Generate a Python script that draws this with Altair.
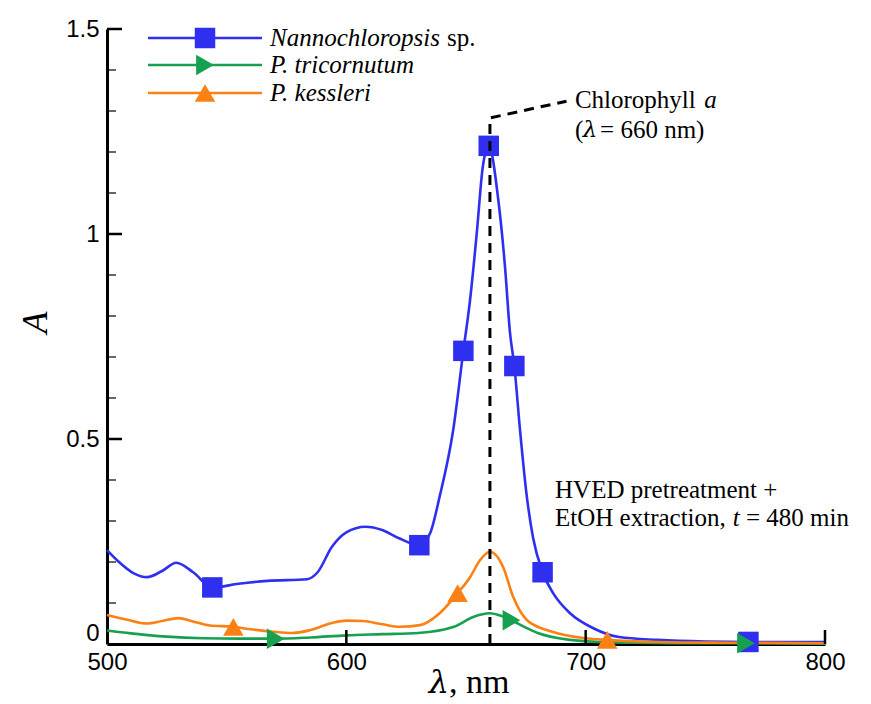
import altair as alt
import pandas as pd

# ---------------- data ----------------
series_names = ["Nannochloropsis sp.", "P. tricornutum", "P. kessleri"]
series_colors = ["#2f2ff0", "#17a050", "#fb8114"]
series_shapes = ["square", "triangle-right", "triangle-up"]

blue_x = [500, 505, 511, 516.7, 523, 529, 536, 544, 555, 567, 583.6, 588, 594, 600, 608, 615, 622, 630.5,
          635, 639, 644.6, 648.9, 651.7, 654.5, 657, 659.5, 663.5, 666.3, 668.4, 670.2, 672.6, 675.4,
          678, 682, 686.4, 693.5, 703, 714, 730, 750, 768, 800]
blue_y = [0.229, 0.2, 0.173, 0.163, 0.178, 0.198, 0.175, 0.138, 0.147, 0.154, 0.158, 0.175, 0.237, 0.272,
          0.286, 0.278, 0.258, 0.241, 0.27, 0.36, 0.52, 0.715, 0.839, 1.002, 1.163, 1.215, 1.083, 0.92,
          0.758, 0.678, 0.52, 0.36, 0.26, 0.175, 0.124, 0.075, 0.039, 0.017, 0.01, 0.006, 0.005, 0.005]

green_x = [500, 510, 525, 540, 555, 570.5, 585, 600, 615, 630, 645, 653, 660, 665, 669, 675, 680, 693.5,
           705, 720, 740, 767, 800]
green_y = [0.033, 0.026, 0.018, 0.014, 0.013, 0.013, 0.016, 0.021, 0.024, 0.027, 0.042, 0.066, 0.075,
           0.068, 0.058, 0.04, 0.027, 0.01, 0.005, 0.003, 0.002, 0.002, 0.001]

orange_x = [500, 508, 516.6, 523, 529.8, 536, 543, 552.8, 560, 569.4, 577.7, 585, 594, 600, 607, 615,
            622.4, 630.8, 639, 646.5, 651.7, 655.9, 660, 665.5, 669.7, 675.5, 686, 700, 709, 730, 760, 800]
orange_y = [0.071, 0.06, 0.05, 0.056, 0.063, 0.055, 0.045, 0.042, 0.036, 0.03, 0.027, 0.034, 0.051, 0.057,
            0.056, 0.048, 0.042, 0.046, 0.075, 0.124, 0.163, 0.205, 0.225, 0.188, 0.115, 0.058, 0.03,
            0.014, 0.01, 0.005, 0.003, 0.002]

blue_mx = [544, 630.5, 648.9, 659.5, 670.2, 682, 768]
blue_my = [0.138, 0.241, 0.715, 1.215, 0.678, 0.175, 0.005]
green_mx = [570.5, 669, 767]
green_my = [0.013, 0.058, 0.002]
orange_mx = [552.8, 646.5, 709]
orange_my = [0.042, 0.124, 0.01]

# chlorophyll a guide
guide_x = [660, 660, 692]
guide_y = [0, 1.283, 1.324]

y_major = [0, 0.5, 1, 1.5]
y_minor = [0.1, 0.2, 0.3, 0.4, 0.6, 0.7, 0.8, 0.9, 1.1, 1.2, 1.3, 1.4]
x_major = [500, 600, 700, 800]
x_inner_ticks = [600, 700, 800]

# ---------------- tables ----------------
curves = pd.concat([
    pd.DataFrame({"series": series_names[0], "x": blue_x, "y": blue_y}),
    pd.DataFrame({"series": series_names[1], "x": green_x, "y": green_y}),
    pd.DataFrame({"series": series_names[2], "x": orange_x, "y": orange_y}),
])
markers = pd.concat([
    pd.DataFrame({"series": series_names[0], "x": blue_mx, "y": blue_my}),
    pd.DataFrame({"series": series_names[1], "x": green_mx, "y": green_my}),
    pd.DataFrame({"series": series_names[2], "x": orange_mx, "y": orange_my}),
])
guide = pd.DataFrame({"x": guide_x, "y": guide_y, "o": list(range(len(guide_x)))})

X_DOM = [500, 800]
Y_DOM = [0, 1.5]
SERIF = "Liberation Serif"
GREEK = "DejaVu Serif"
SANS = "Liberation Sans"

xs = alt.Scale(domain=X_DOM, nice=False, zero=False)
ys = alt.Scale(domain=Y_DOM, nice=False)

color = alt.Color("series:N", scale=alt.Scale(domain=series_names, range=series_colors), legend=None)
shape = alt.Shape("series:N", scale=alt.Scale(domain=series_names, range=series_shapes), legend=None)

x_enc = alt.X("x:Q", scale=xs,
              axis=alt.Axis(values=x_major, format="d", title=None, ticks=False, grid=False,
                            domainColor="black", domainWidth=3, labelFont=SANS, labelFontSize=24,
                            labelColor="black", labelPadding=6, labelFlush=False))
y_enc = alt.Y("y:Q", scale=ys,
              axis=alt.Axis(values=y_major, format="~g", title="A", ticks=False, grid=False,
                            domainColor="black", domainWidth=3, labelFont=SANS, labelFontSize=24,
                            labelColor="black", labelPadding=8, labelFlush=False,
                            labelOffset={"condition": {"test": "datum.value == 0", "value": -11},
                                         "value": 0},
                            titleFont=SERIF, titleFontSize=36,
                            titleFontStyle="italic", titleFontWeight="normal", titleColor="black",
                            titleX=-72, titleY=293, titleAngle=270, titleBaseline="middle",
                            titleAlign="center"))

lines = alt.Chart(curves).mark_line(strokeWidth=2.6, interpolate="monotone").encode(
    x=x_enc, y=y_enc, color=color, detail="series:N")

points = alt.Chart(markers).mark_point(filled=True, size=420, opacity=1).encode(
    x=alt.X("x:Q", scale=xs), y=alt.Y("y:Q", scale=ys), color=color, shape=shape)

guide_line = alt.Chart(guide).mark_line(color="black", strokeWidth=3, strokeDash=[10, 7]).encode(
    x=alt.X("x:Q", scale=xs), y=alt.Y("y:Q", scale=ys), order="o:Q")

# inward ticks
ymin_df = pd.DataFrame({"y": y_minor})
ymaj_df = pd.DataFrame({"y": [v for v in y_major if v > 0]})
xt_df = pd.DataFrame({"x": x_inner_ticks})
tick_minor = alt.Chart(ymin_df).mark_rule(color="black", strokeWidth=1.2).encode(
    y=alt.Y("y:Q", scale=ys), x=alt.value(0), x2=alt.value(9))
tick_major = alt.Chart(ymaj_df).mark_rule(color="black", strokeWidth=2.5).encode(
    y=alt.Y("y:Q", scale=ys), x=alt.value(0), x2=alt.value(15))
tick_x = alt.Chart(xt_df).mark_rule(color="black", strokeWidth=2.5).encode(
    x=alt.X("x:Q", scale=xs), y=alt.value(615), y2=alt.value(601))

# annotations (data coordinates)
def txt(label, x, y, italic=False, align="left", size=25, font=SERIF):
    df = pd.DataFrame({"x": [x], "y": [y], "t": [label]})
    return alt.Chart(df).mark_text(font=font, fontSize=size, align=align, baseline="middle",
                                   fontStyle="italic" if italic else "normal", color="black").encode(
        x=alt.X("x:Q", scale=xs), y=alt.Y("y:Q", scale=ys), text="t:N")

ann = [
    txt("Chlorophyll", 695.5, 1.327),
    txt("a", 749.5, 1.327, italic=True),
    txt("(", 695.5, 1.254),
    txt("λ", 698.8, 1.254, italic=True, font=GREEK, size=23),
    txt("= 660 nm)", 706.0, 1.254),
    txt("HVED pretreatment +", 687.2, 0.376),
    txt("EtOH extraction,", 687.2, 0.307),
    txt("t", 761.5, 0.307, italic=True),
    txt("= 480 min", 767.0, 0.307),
]

# x-axis title drawn as text (pixel position below the axis)
xt1 = pd.DataFrame({"t": ["λ"]})
xt2 = pd.DataFrame({"t": [", nm"]})
x_title = [
    alt.Chart(xt1).mark_text(font=GREEK, fontSize=32, fontStyle="italic", align="right",
                             baseline="alphabetic", color="black").encode(
        x=alt.value(342), y=alt.value(664), text="t:N"),
    alt.Chart(xt2).mark_text(font=SERIF, fontSize=34, align="left",
                             baseline="alphabetic", color="black").encode(
        x=alt.value(342), y=alt.value(664), text="t:N"),
]

# manual legend (pixel positions)
legend_layers = []
row_y = [9, 36, 64]
for name, col, shp, ry in zip(series_names, series_colors, series_shapes, row_y):
    d = pd.DataFrame({"s": [name]})
    legend_layers.append(alt.Chart(d).mark_rule(color=col, strokeWidth=2.6).encode(
        x=alt.value(41), x2=alt.value(155), y=alt.value(ry)))
    legend_layers.append(alt.Chart(d).mark_point(filled=True, size=420, opacity=1, color=col, shape=shp).encode(
        x=alt.value(98), y=alt.value(ry)))
d0 = pd.DataFrame({"t": ["Nannochloropsis"]})
legend_layers.append(alt.Chart(d0).mark_text(font=SERIF, fontSize=25, fontStyle="italic", align="left",
                                              baseline="middle", color="black").encode(
    x=alt.value(163), y=alt.value(row_y[0]), text="t:N"))
d0b = pd.DataFrame({"t": ["sp."]})
legend_layers.append(alt.Chart(d0b).mark_text(font=SERIF, fontSize=25, align="left",
                                               baseline="middle", color="black").encode(
    x=alt.value(340), y=alt.value(row_y[0]), text="t:N"))
for name, ry in zip(series_names[1:], row_y[1:]):
    dd = pd.DataFrame({"t": [name]})
    legend_layers.append(alt.Chart(dd).mark_text(font=SERIF, fontSize=25, fontStyle="italic", align="left",
                                                  baseline="middle", color="black").encode(
        x=alt.value(163), y=alt.value(ry), text="t:N"))

chart = alt.layer(lines, points, guide_line, tick_minor, tick_major, tick_x, *ann, *x_title,
                  *legend_layers).properties(
    width=718, height=615,
    autosize=alt.AutoSizeParams(type="none"),
    padding={"left": 99, "top": 21, "right": 38, "bottom": 60},
).configure(background="white", view=alt.ViewConfig(stroke=None))

chart.save("out.html", embed_options={"renderer": "svg", "actions": False})
